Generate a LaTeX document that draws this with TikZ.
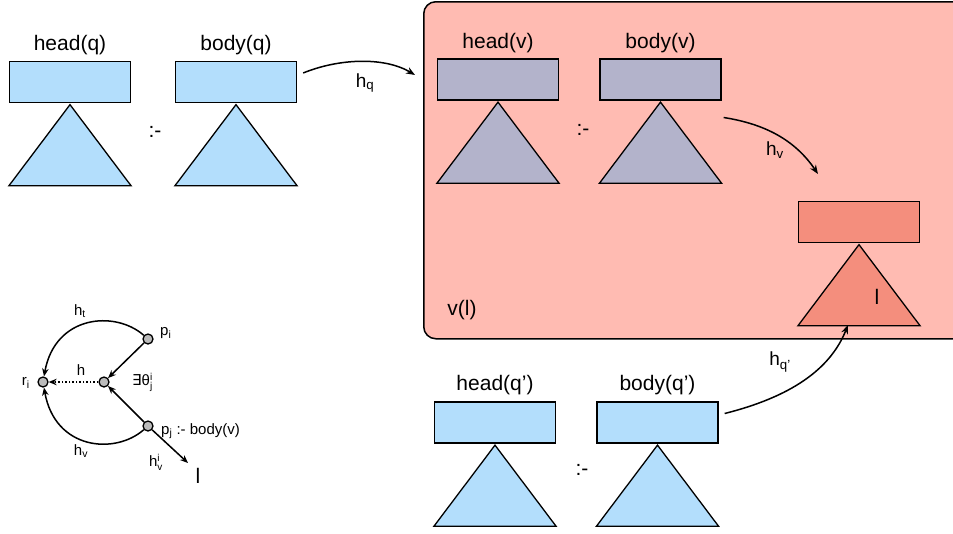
\documentclass[tikz,border=0pt]{standalone}
\usepackage{fontspec}
\setmainfont{Liberation Sans}
\newfontfamily\djv{DejaVu Sans}
\usetikzlibrary{arrows.meta,calc}
\definecolor{qblue}{HTML}{B3DEFC}
\definecolor{vgrey}{HTML}{B3B3CB}
\definecolor{lred}{HTML}{F48E7D}
\definecolor{boxred}{HTML}{FFBBB2}
\definecolor{dotgrey}{HTML}{BBBBBB}
\newcommand\mytri[2]{\draw[tristyle, fill=#2] ($(#1.south)+(0,1.5)$) -- ++(61,81) -- ++(-122,0) -- cycle;}
\newcommand\supsub[2]{$^{\mbox{\fontsize{10}{10}\selectfont #1}}_{\mbox{\fontsize{10}{10}\selectfont #2}}$}
\begin{document}
\begin{tikzpicture}[x=1pt,y=-1pt,
  rectbox/.style={draw, line width=1.3pt, minimum width=121pt, minimum height=41pt, inner sep=0pt},
  tristyle/.style={draw, line width=1.3pt, line join=miter},
  biglabel/.style={font=\fontsize{21}{24}\selectfont, inner sep=0pt},
  hlabel/.style={font=\fontsize{19}{22}\selectfont, inner sep=0pt},
  smalllabel/.style={font=\fontsize{15}{18}\selectfont, inner sep=0pt},
  arr/.style={line width=1.5pt, -{Stealth[length=9pt,width=7pt]}},
  sarr/.style={line width=1.5pt, -{Stealth[length=8pt,width=6.5pt]}},
  dotnode/.style={circle, draw, fill=dotgrey, line width=1.3pt, minimum size=10pt, inner sep=0pt}]
\useasboundingbox (0,0) rectangle (953,533);
\clip (0,0) rectangle (953,533);
% big box
\node[draw, fill=boxred, rounded corners=12pt, line width=1.5pt, minimum width=560pt, minimum height=337pt, inner sep=0pt, anchor=north west] (vbox) at (423,1) {};
% q clause
\node[rectbox, fill=qblue] (hq) at (70,82) {};
\node[rectbox, fill=qblue] (bq) at (236,82) {};
\mytri{hq}{qblue}
\mytri{bq}{qblue}
\node[biglabel] (lhq) at (70,45) {head(q)};
\node[biglabel] (lbq) at (236,45) {body(q)};
\node[biglabel] (cq) at (155,132) {:-};
% v clause
\node[rectbox, fill=vgrey] (hv) at (498,79.5) {};
\node[rectbox, fill=vgrey] (bv) at (660.5,79.5) {};
\mytri{hv}{vgrey}
\mytri{bv}{vgrey}
\node[biglabel] (lhv) at (498,43) {head(v)};
\node[biglabel] (lbv) at (660.5,43) {body(v)};
\node[biglabel] (cv) at (583,130) {:-};
% l
\node[rectbox, fill=lred] (lr) at (859,222) {};
\mytri{lr}{lred}
\node[biglabel] (ll) at (877,297) {l};
\node[biglabel] (vl) at (462,310) {v(l)};
% q' clause
\node[rectbox, fill=qblue] (hq2) at (495,422.5) {};
\node[rectbox, fill=qblue] (bq2) at (657.5,422.5) {};
\mytri{hq2}{qblue}
\mytri{bq2}{qblue}
\node[biglabel] (lhq2) at (495,385) {head(q’)};
\node[biglabel] (lbq2) at (657.5,385) {body(q’)};
\node[biglabel] (cq2) at (582,470) {:-};
% arrows
\coordinate (hqend) at (415,75);
\draw[arr] ($(bq.east)+(6,-9)$) .. controls (340,58) and (385,57) .. (hqend);
\node[hlabel] (lhqa) at (365,83) {h\textsubscript{q}};
\coordinate (hvend) at (818,174);
\draw[arr] ($(bv.east)+(2,38)$) .. controls (765,124) and (795,140) .. (hvend);
\node[hlabel] (lhva) at (775,150) {h\textsubscript{v}};
\coordinate (hq2end) at (848,325);
\draw[arr] ($(bq2.east)+(6,-9)$) .. controls (790,397) and (830,370) .. (hq2end);
\node[hlabel] (lhq2a) at (780,362) {h\textsubscript{q’}};
% small diagram
\node[dotnode] (ri) at (43,382) {};
\node[dotnode] (m) at (104,382) {};
\node[dotnode] (pi) at (148,339) {};
\node[dotnode] (pj) at (148,426) {};
\coordinate (lend) at (188,463);
\node[smalllabel, anchor=east] (lri) at (30,383) {r\textsubscript{i}};
\node[smalllabel, anchor=west] (lpi) at (160,333) {p\textsubscript{i}};
\node[smalllabel, anchor=west] (lth) at (132,382) {{\djv ∃}θ\supsub{i}{j}};
\node[smalllabel, anchor=west] (lpj) at (161,431) {p\textsubscript{j} :- body(v)};
\node[smalllabel] (lht) at (80,311) {h\textsubscript{t}};
\node[smalllabel] (lh) at (81,370) {h};
\node[smalllabel] (lhv2) at (81,451) {h\textsubscript{v}};
\node[smalllabel] (lhvi) at (156,462) {h\supsub{i}{v}};
\node[biglabel] (lsl) at (198,476) {l};
\draw[sarr] (pi) .. controls (115,310) and (55,315) .. (ri);
\draw[sarr] (pj) .. controls (115,455) and (55,450) .. (ri);
\draw[sarr] (pi) -- (m);
\draw[sarr] (pj) -- (m);
\draw[sarr, dotted] (m) -- (ri);
\draw[sarr] (pj) -- (lend);
\end{tikzpicture}
\end{document}
